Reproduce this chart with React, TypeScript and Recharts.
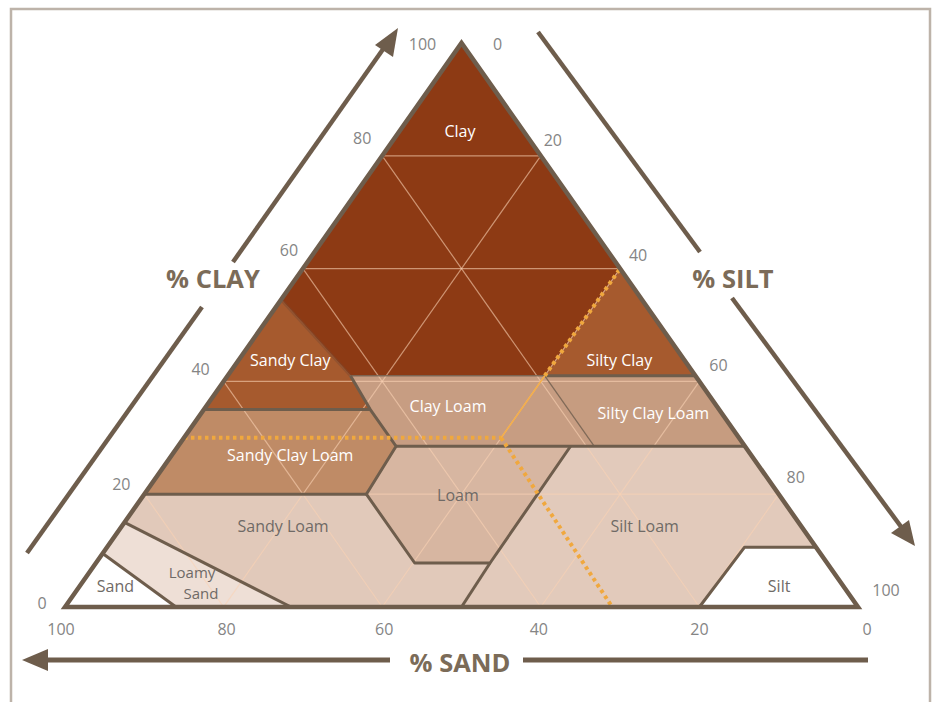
import { ScatterChart, Scatter, XAxis, YAxis } from 'recharts';

// every point is [sand %, clay %]; silt is whatever is left
type P = [number, number];

const ticks = [0, 20, 40, 60, 80, 100];
const gridSteps = [20, 40, 60, 80];

const clayPts: P[] = [[0, 100], [45.5, 54.5], [43.5, 41], [19, 41], [0, 60]];
const sandyClayPts: P[] = [[45.5, 54.5], [43.5, 41], [44, 35], [65, 35]];
const siltyClayPts: P[] = [[0, 60], [19, 41], [0, 41]];
const clayLoamPts: P[] = [[44, 35], [43.5, 41], [19, 41], [19, 28.5], [44, 28.5]];
const siltyClayLoamPts: P[] = [[19, 41], [0, 41], [0, 28.5], [19, 28.5]];
const sandyClayLoamPts: P[] = [[65, 35], [44, 35], [44, 28.5], [52, 20], [80, 20]];
const loamPts: P[] = [[44, 28.5], [22, 28.5], [42.5, 7.8], [52, 7.8], [52, 20]];
const siltLoamPts: P[] = [[22, 28.5], [0, 28.5], [0, 10.6], [9, 10.6], [20, 0], [50, 0], [42.5, 7.8]];
const siltPts: P[] = [[9, 10.6], [0, 10.6], [0, 0], [20, 0]];
const sandyLoamPts: P[] = [[80, 20], [52, 20], [52, 7.8], [42.5, 7.8], [50, 0], [71.5, 0], [85, 15]];
const loamySandPts: P[] = [[85, 15], [71.5, 0], [86, 0], [90.5, 9.5]];
const sandPts: P[] = [[90.5, 9.5], [86, 0], [100, 0]];

const regions = [
  { name: 'Clay', pts: clayPts },
  { name: 'Sandy Clay', pts: sandyClayPts },
  { name: 'Silty Clay', pts: siltyClayPts },
  { name: 'Clay Loam', pts: clayLoamPts },
  { name: 'Silty Clay Loam', pts: siltyClayLoamPts },
  { name: 'Sandy Clay Loam', pts: sandyClayLoamPts },
  { name: 'Loam', pts: loamPts },
  { name: 'Silt Loam', pts: siltLoamPts },
  { name: 'Silt', pts: siltPts },
  { name: 'Sandy Loam', pts: sandyLoamPts },
  { name: 'Loamy Sand', pts: loamySandPts },
  { name: 'Sand', pts: sandPts },
];

const heavyBorders: P[][] = [
  [[43.5, 41], [44, 35], [44, 28.5], [52, 20]],
  [[65, 35], [44, 35]],
  [[44, 28.5], [0, 28.5]],
  [[80, 20], [52, 20]],
  [[52, 20], [52, 7.8], [42.5, 7.8], [22, 28.5]],
  [[42.5, 7.8], [50, 0]],
  [[20, 0], [9, 10.6], [0, 10.6]],
  [[85, 15], [71.5, 0]],
  [[90.5, 9.5], [86, 0]],
  [[19, 41], [0, 41]],
];
const lightBorders: P[][] = [
  [[43.5, 41], [19, 41]],
  [[19, 41], [19, 28.5]],
];
const softBorders: P[][] = [[[45.5, 54.5], [43.5, 41]]];

// example sample: 30 % sand, 40 % silt, 30 % clay
const dottedGuides: P[][] = [
  [[70, 30], [30, 30]],
  [[30, 30], [31, 0]],
  [[19, 41], [0, 60]],
];
const thinGuides: P[][] = [[[30, 30], [19, 41]]];

const outline: P[] = [[100, 0], [0, 100], [0, 0]];

const regionLabels = [
  { text: ['Clay'], at: [8, 84.4] as P },
  { text: ['Sandy Clay'], at: [49.7, 43.8] as P },
  { text: ['Silty Clay'], at: [8.2, 43.8] as P },
  { text: ['Clay Loam'], at: [33.9, 35.6] as P },
  { text: ['Silty Clay Loam'], at: [8.6, 34.4] as P },
  { text: ['Sandy Clay Loam'], at: [58.1, 27] as P },
  { text: ['Loam'], at: [40.5, 19.9] as P },
  { text: ['Sandy Loam'], at: [65.3, 14.4] as P },
  { text: ['Silt Loam'], at: [19.7, 14.4] as P },
  { text: ['Silt'], at: [8.1, 3.7] as P },
  { text: ['Sand'], at: [91.8, 3.7] as P },
  { text: ['Loamy', 'Sand'], at: [81.2, 4.3] as P },
];

const FILL: Record<string, string> = {
  Clay: '#8d3a14',
  'Sandy Clay': '#a65a2e',
  'Silty Clay': '#a65a2e',
  'Clay Loam': '#c79d82',
  'Silty Clay Loam': '#c69c80',
  'Sandy Clay Loam': '#bf8b66',
  Loam: '#d7b6a1',
  'Silt Loam': '#e2cabb',
  Silt: '#ffffff',
  'Sandy Loam': '#e1c9ba',
  'Loamy Sand': '#eedfd6',
  Sand: '#ffffff',
};
const WHITE_TEXT = ['Clay', 'Sandy Clay', 'Silty Clay', 'Clay Loam', 'Silty Clay Loam', 'Sandy Clay Loam'];

const NUDGE: Record<string, Record<number, [number, number]>> = {
  clay: { 100: [-39, 1], 80: [-20, -18], 60: [-14, -19], 40: [-23, -12], 20: [-23, -10], 0: [-23, -4] },
  silt: { 0: [36, 1], 20: [12, -16], 40: [18, -14], 60: [19, -16], 80: [17, -17], 100: [28, -17] },
  sand: { 100: [-4, 22], 80: [3, 22], 60: [2, 22], 40: [-2, 22], 20: [0, 22], 0: [9, 22] },
};

const BORDER = '#6e5d4c';
const FONT = '"Open Sans", "DejaVu Sans", sans-serif';

const toXY = ([sand, clay]: P) => ({ x: 100 - sand - clay / 2, y: clay });
const asPoints = (pts: { x: number; y: number }[]) => pts.map((q) => `${q.x},${q.y}`).join(' ');
const Nothing = () => <g />;

const gridLines: P[][] = gridSteps.flatMap((v) => [
  [[100 - v, v], [0, v]] as P[],
  [[v, 100 - v], [v, 0]] as P[],
  [[0, 100 - v], [100 - v, 0]] as P[],
]);

const tickPts = [
  ...ticks.map((v) => ({ ...toXY([100 - v, v]), v, side: 'clay' })),
  ...ticks.map((v) => ({ ...toXY([0, 100 - v]), v, side: 'silt' })),
  ...ticks.map((v) => ({ ...toXY([v, 0]), v, side: 'sand' })),
];

const polyline = (stroke: string, width: number, extra: any = {}) => (lp: any) => (
  <polyline points={asPoints(lp.points)} fill="none" stroke={stroke} strokeWidth={width} {...extra} />
);

function Decorations() {
  const arrow = '#6e5d4c';
  return (
    <svg width={939} height={702} style={{ position: 'absolute', left: 0, top: 0 }}>
      <rect x={11} y={9} width={919} height={730} fill="none" stroke="#bdb3a9" strokeWidth={2.5} />
      {/* % CLAY arrow */}
      <line x1={27} y1={553} x2={202} y2={307} stroke={arrow} strokeWidth={4.5} />
      <line x1={233} y1={262} x2={386} y2={45} stroke={arrow} strokeWidth={4.5} />
      <polygon points="398,28 375,45 393,57" fill={arrow} />
      {/* % SILT arrow */}
      <line x1={538} y1={32} x2={700} y2={252} stroke={arrow} strokeWidth={4.5} />
      <line x1={732} y1={298} x2={902} y2={528} stroke={arrow} strokeWidth={4.5} />
      <polygon points="915,546 891,533 909,520" fill={arrow} />
      {/* % SAND arrow */}
      <line x1={868} y1={660} x2={523} y2={660} stroke={arrow} strokeWidth={5} />
      <line x1={390} y1={660} x2={44} y2={660} stroke={arrow} strokeWidth={5} />
      <polygon points="22,660 48,649 48,671" fill={arrow} />
      <g fontFamily={FONT} fontWeight={700} fontSize={25.5} fill="#7b6b58" textAnchor="middle">
        <text x={213} y={288}>% CLAY</text>
        <text x={733} y={288}>% SILT</text>
        <text x={460} y={672}>% SAND</text>
      </g>
    </svg>
  );
}

export default function App() {
  return (
    <div style={{ position: 'absolute', left: 0, top: 0, width: 939, height: 702, background: '#fff' }}>
      <Decorations />
      <div style={{ position: 'absolute', left: 0, top: 0 }}>
        <ScatterChart width={939} height={702} margin={{ top: 43, right: 81, bottom: 95, left: 65 }}>
          <XAxis type="number" dataKey="x" domain={[0, 100]} hide />
          <YAxis type="number" dataKey="y" domain={[0, 100]} hide />

          {regions.map((r) => (
            <Scatter
              key={'r-' + r.name}
              data={r.pts.map(toXY)}
              isAnimationActive={false}
              shape={Nothing}
              line={(lp: any) => (
                <polygon points={asPoints(lp.points)} fill={FILL[r.name]} stroke={FILL[r.name]} strokeWidth={0.8} />
              )}
            />
          ))}

          {gridLines.map((g, i) => (
            <Scatter
              key={'g-' + i}
              data={g.map(toXY)}
              isAnimationActive={false}
              shape={Nothing}
              line={polyline('rgb(250,210,180)', 1.2, { strokeOpacity: 0.6 })}
            />
          ))}

          {softBorders.map((b, i) => (
            <Scatter key={'s-' + i} data={b.map(toXY)} isAnimationActive={false} shape={Nothing}
              line={polyline('#7a4a30', 3, { strokeOpacity: 0.45 })} />
          ))}
          {lightBorders.map((b, i) => (
            <Scatter key={'l-' + i} data={b.map(toXY)} isAnimationActive={false} shape={Nothing}
              line={polyline(BORDER, 1.3, { strokeOpacity: 0.8 })} />
          ))}
          {heavyBorders.map((b, i) => (
            <Scatter key={'h-' + i} data={b.map(toXY)} isAnimationActive={false} shape={Nothing}
              line={polyline(BORDER, 3, { strokeLinejoin: 'round' })} />
          ))}

          {thinGuides.map((b, i) => (
            <Scatter key={'t-' + i} data={b.map(toXY)} isAnimationActive={false} shape={Nothing}
              line={polyline('#f4ae4a', 1.6)} />
          ))}
          {dottedGuides.map((b, i) => (
            <Scatter key={'d-' + i} data={b.map(toXY)} isAnimationActive={false} shape={Nothing}
              line={polyline('#f0a83e', 4, { strokeDasharray: '3.5 3.5' })} />
          ))}

          <Scatter
            data={outline.map(toXY)}
            isAnimationActive={false}
            shape={Nothing}
            line={(lp: any) => (
              <polygon points={asPoints(lp.points)} fill="none" stroke={BORDER} strokeWidth={4.5} strokeLinejoin="miter" />
            )}
          />

          <Scatter
            data={regionLabels.map((l) => ({ ...toXY(l.at), text: l.text, white: WHITE_TEXT.includes(l.text.join(' ')) }))}
            isAnimationActive={false}
            shape={(sp: any) => {
              const { cx, cy, payload } = sp;
              const lines: string[] = payload.text;
              const stacked = lines.length > 1;
              return (
                <g fontFamily={FONT} fontSize={stacked ? 15 : 16} fill={payload.white ? '#ffffff' : '#6f6a66'} textAnchor="middle">
                  {lines.map((t, i) => (
                    <text
                      key={t}
                      x={cx + (stacked ? (i === 0 ? -5 : 4) : 0)}
                      y={cy + (stacked ? (i === 0 ? -10.5 : 10.5) : 0)}
                      dominantBaseline="central"
                    >
                      {t}
                    </text>
                  ))}
                </g>
              );
            }}
          />

          <Scatter
            data={tickPts}
            isAnimationActive={false}
            shape={(sp: any) => {
              const { cx, cy, payload } = sp;
              const [dx, dy] = NUDGE[payload.side][payload.v];
              return (
                <text x={cx + dx} y={cy + dy} fontFamily={FONT} fontSize={16} fill="#858585" textAnchor="middle" dominantBaseline="central">
                  {payload.v}
                </text>
              );
            }}
          />
        </ScatterChart>
      </div>
    </div>
  );
}
